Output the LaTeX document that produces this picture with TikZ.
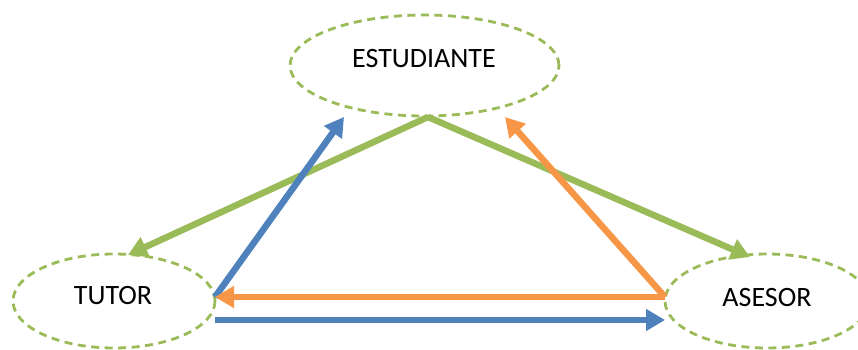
\documentclass[tikz,border=0pt]{standalone}
\usepackage{fontspec}
\setmainfont{Carlito}
\usetikzlibrary{shapes.geometric,arrows.meta}
\definecolor{cgreen}{HTML}{9BBB59}
\definecolor{cblue}{HTML}{4F81BD}
\definecolor{corange}{HTML}{F79646}
\tikzset{
  ell/.style={ellipse, draw=cgreen, line width=2.8pt, dash pattern=on 8pt off 5.5pt, inner sep=0pt},
  lbl/.style={font=\fontsize{28}{34}\selectfont, inner sep=0pt, text=black},
  conn/.style={line width=6.5pt, -{Triangle[length=19pt,width=21pt]}},
}
\begin{document}
\begin{tikzpicture}[x=1pt,y=-1pt]
\useasboundingbox (0,0) rectangle (858,350);
\node[ell, minimum width=269pt, minimum height=101pt] (est) at (424.5,65.5) {};
\node[ell, minimum width=202pt, minimum height=94pt] (tut) at (114,301) {};
\node[ell, minimum width=204pt, minimum height=94pt] (ase) at (767,301) {};
\node[lbl] (estl) at (424,59) {ESTUDIANTE};
\node[lbl] (tutl) at (113,295.5) {TUTOR};
\node[lbl] (asel) at (767,297.5) {ASESOR};
\coordinate (e0) at (428,117);
\coordinate (t1) at (215,297);
\coordinate (t2) at (215,320);
\coordinate (a1) at (665,297);
\coordinate (a2) at (665,320);
\coordinate (tg) at (128,255);
\coordinate (ag) at (750,257);
\coordinate (eb) at (344,117);
\coordinate (eo) at (505,117);
\draw[conn, cgreen] (e0) -- (tg);
\draw[conn, cgreen] (e0) -- (ag);
\draw[conn, cblue] (t1) -- (eb);
\draw[conn, cblue] (t2) -- (a2);
\draw[conn, corange] (a1) -- (eo);
\draw[conn, corange] (a1) -- (t1);
\end{tikzpicture}
\end{document}
